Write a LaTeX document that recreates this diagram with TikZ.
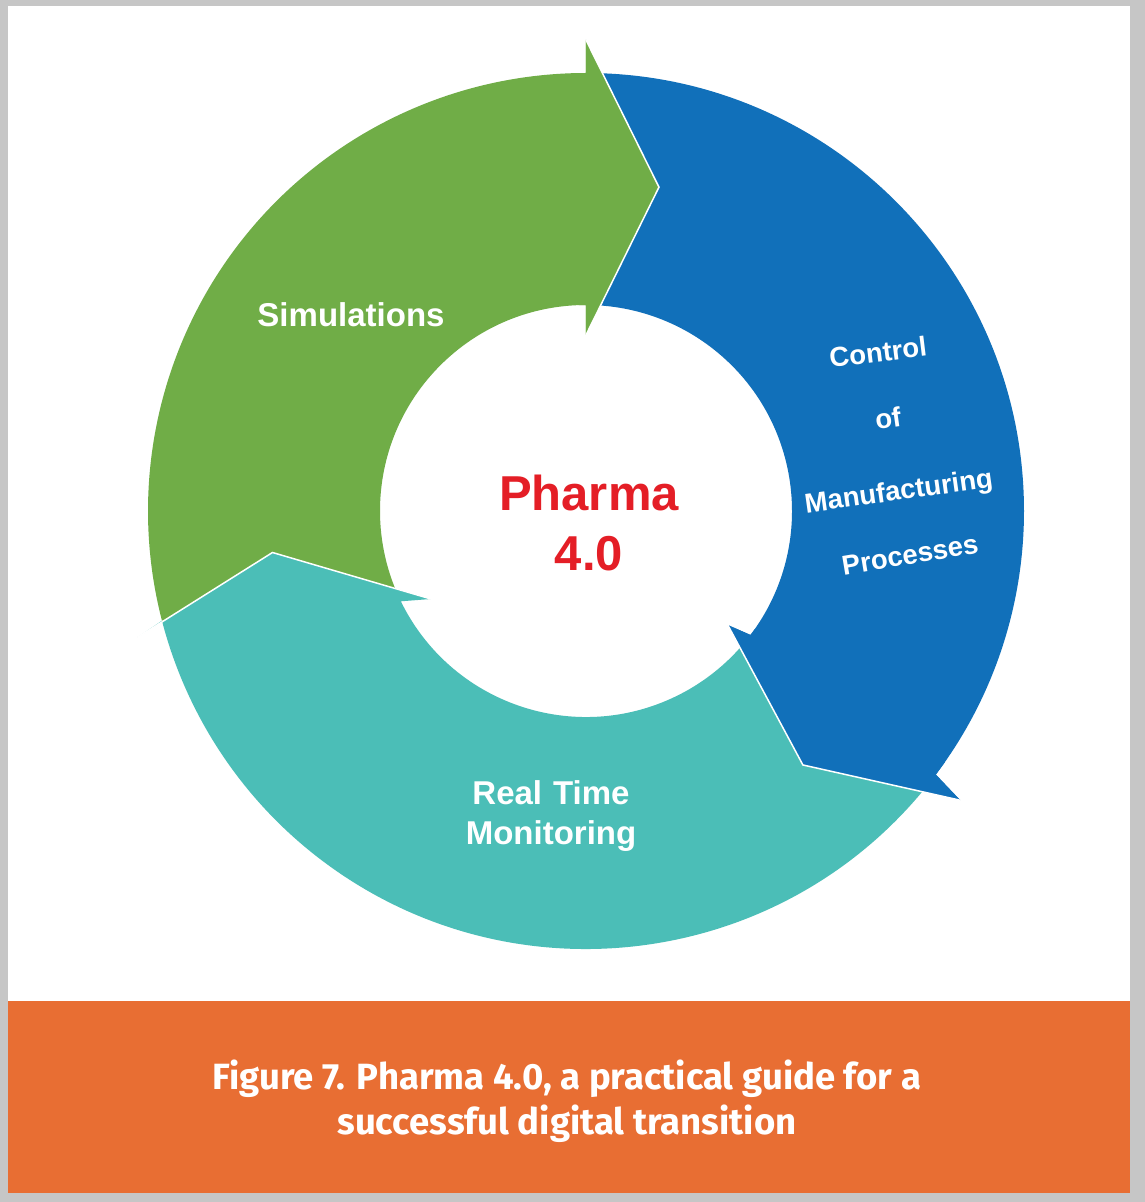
\documentclass[tikz,border=0pt]{standalone}
\usepackage{fontspec}
\setmainfont{Liberation Sans}
\newfontfamily\capfont{Fira Sans}
\usepackage{xcolor}
\usetikzlibrary{calc}

\definecolor{simgreen}{RGB}{112,173,71}
\definecolor{ctrlblue}{RGB}{17,112,186}
\definecolor{rtmteal}{RGB}{75,190,183}
\definecolor{caporange}{RGB}{232,110,51}
\definecolor{pharmared}{RGB}{228,30,38}
\definecolor{framegray}{RGB}{198,198,198}

\begin{document}
\begin{tikzpicture}[
  x=1pt, y=1pt,
  headline/.style={draw=white, line width=1.5pt},
  lbl/.style={text=white, align=center, inner sep=0pt, font=\bfseries\fontsize{#1}{40}\selectfont},
  captext/.style={text=white, align=center, font=\capfont\bfseries\fontsize{36.5}{45}\selectfont}
]
\useasboundingbox (-586,-691) rectangle (559,511);
% page and caption band
\fill[framegray] (-586,-691) rectangle (559,511);
\fill[white] (-578,-682) rectangle (544,505);
\fill[caporange] (-578,-682) rectangle (544,-490);

% arrow heads
\coordinate (gB1) at (90:471);
\coordinate (gTip) at (77.3:332);
\coordinate (gB2) at (90:176);
\coordinate (bB1) at (-37.7:473);
\coordinate (bTip) at (-49.5:334);
\coordinate (bB2) at (-38.8:182);
\coordinate (tB1) at (-448,-126);
\coordinate (tTip) at (-313.5,-41.5);
\coordinate (tB2) at (-155,-88);

% ring segments
\fill[simgreen] (194.5:438) arc[start angle=194.5, end angle=90, radius=438]
  -- (gB1) -- (gTip) -- (gB2) -- (90:206) arc[start angle=90, end angle=206, radius=206] -- cycle;
\fill[ctrlblue] (90:438) arc[start angle=90, end angle=-37, radius=438]
  -- (bB1) -- (bTip) -- (bB2) -- (-37:206) arc[start angle=-37, end angle=90, radius=206] -- cycle;
\fill[rtmteal] (-37:438) arc[start angle=-37, end angle=-165.5, radius=438]
  -- (tB1) -- (tTip) -- (tB2) -- (-154:206) arc[start angle=-154, end angle=-37, radius=206] -- cycle;
% heads on top of the next segment
\fill[simgreen] (92:438) -- (90:438) -- (gB1) -- (gTip) -- (gB2) -- (90:206) -- (92:206) -- cycle;
\fill[ctrlblue] (-35:438) -- (-37:438) -- (bB1) -- (bTip) -- (bB2) -- (-37:206) -- (-35:206) -- cycle;
\draw[headline] (gB1) -- (gTip) -- (gB2);
\draw[headline] (bB1) -- (bTip) -- (bB2);
\draw[headline] (tB1) -- (tTip) -- (tB2);

% labels
\node[lbl=33] (sim) at (-235,196) {Simulations};
\node[lbl=27.5, rotate=7] (ctrl) at (292,159) {Control};
\node[lbl=27.5, rotate=8] (of) at (302,93) {of};
\node[lbl=27.5, rotate=8] (manu) at (313,18) {Manufacturing};
\node[lbl=27.5, rotate=9.5] (proc) at (324,-44) {Processes};
\node[lbl=33, text width=300pt] (rtm) at (-35,-305) {Real Time\\Monitoring};
\node[text=pharmared, align=center, font=\bfseries\fontsize{49}{60}\selectfont] (pharma) at (3,-12) {Pharma\\4.0};
\node[captext] (caption) at (-19,-590) {Figure 7. Pharma 4.0, a practical guide for a\\successful digital transition};
\end{tikzpicture}
\end{document}
